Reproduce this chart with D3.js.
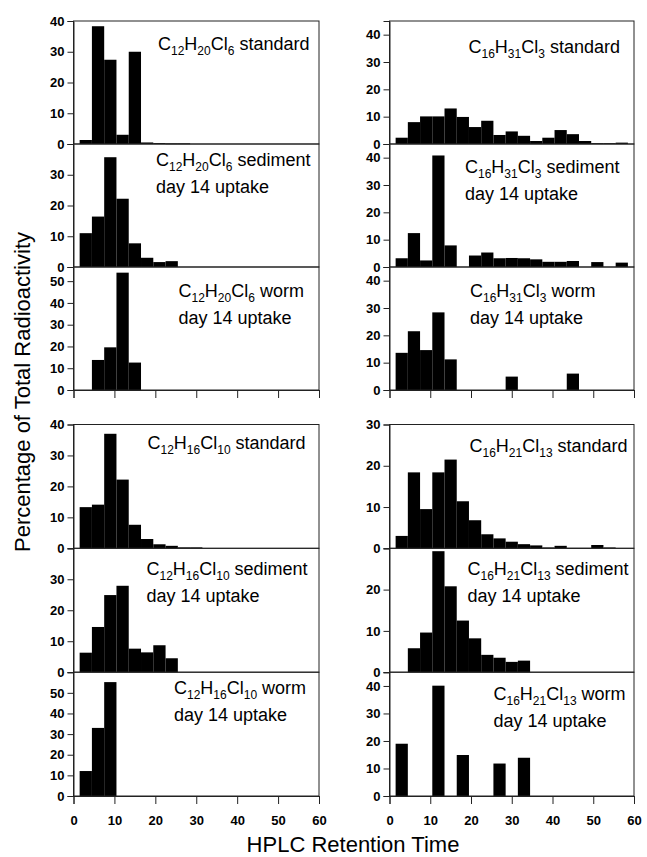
<!DOCTYPE html>
<html>
<head>
<meta charset="utf-8">
<script src="https://cdn.jsdelivr.net/npm/d3@7"></script>
<style>
  html, body { margin: 0; padding: 0; background: #fff; }
  svg { display: block; }
  text { font-family: Arial, "Liberation Sans", sans-serif; fill: #000; }
</style>
</head>
<body>
<svg id="chart" width="647" height="857"></svg>
<script>
// ---------- DATA ----------
// bin centres (HPLC retention time, bins 3 units wide)
const binCenters = [3, 6, 9, 12, 15, 18, 21, 24, 27, 30, 33, 36, 39, 42, 45, 48, 51, 54, 57];
const binWidth = 3;
const xTicks = [0, 10, 20, 30, 40, 50, 60];

// C12H20Cl6
const c12h20Standard = [1.3, 38.3, 27.4, 3.0, 30.0, 0.5, 0.3, 0.2, 0.2, 0, 0, 0, 0, 0, 0, 0, 0, 0, 0];
const c12h20Sediment = [11.0, 16.4, 35.7, 22.2, 7.7, 3.0, 1.6, 1.9, 0, 0, 0, 0, 0, 0, 0, 0, 0, 0, 0];
const c12h20Worm     = [0, 13.8, 19.6, 53.9, 12.6, 0, 0, 0, 0, 0, 0, 0, 0, 0, 0, 0, 0, 0, 0];
// C16H31Cl3
const c16h31Standard = [2.3, 8.0, 10.1, 10.1, 13.0, 9.9, 6.2, 8.5, 3.3, 4.6, 3.0, 1.1, 2.3, 5.1, 3.6, 1.1, 0.3, 0.3, 0.5];
const c16h31Sediment = [3.2, 12.4, 2.4, 40.8, 7.9, 0, 4.2, 5.3, 3.2, 3.3, 3.2, 2.8, 1.9, 1.9, 2.2, 0, 1.8, 0, 1.6];
const c16h31Worm     = [13.6, 21.5, 14.6, 28.4, 11.2, 0, 0, 0, 0, 4.9, 0, 0, 0, 0, 6.0, 0, 0, 0, 0];
// C12H16Cl10
const c12h16Standard = [13.3, 14.1, 37.0, 22.2, 7.6, 3.0, 1.3, 0.8, 0.3, 0.3, 0, 0, 0, 0, 0, 0, 0, 0, 0];
const c12h16Sediment = [6.3, 14.6, 24.9, 27.9, 7.6, 6.4, 8.7, 4.5, 0, 0, 0, 0, 0, 0, 0, 0, 0, 0, 0];
const c12h16Worm     = [12.1, 33.0, 55.2, 0, 0, 0, 0, 0, 0, 0, 0, 0, 0, 0, 0, 0, 0, 0, 0];
// C16H21Cl13
const c16h21Standard = [3.0, 18.4, 9.5, 18.4, 21.5, 11.4, 6.8, 3.4, 2.4, 1.6, 1.0, 0.7, 0.2, 0.6, 0.1, 0.1, 0.8, 0.2, 0];
const c16h21Sediment = [0, 5.8, 9.6, 29.3, 20.8, 12.5, 8.2, 4.2, 3.5, 2.5, 2.8, 0, 0, 0, 0, 0, 0, 0, 0];
const c16h21Worm     = [19.0, 0, 0, 40.1, 0, 14.9, 0, 0, 11.8, 0, 13.9, 0, 0, 0, 0, 0, 0, 0, 0];

// y-axis maxima for each panel
const yMaxes = [40, 40, 56.5, 45, 45, 45, 40, 40, 60, 30, 30, 45];

// panel labels: formula parts [text, isSubscript], then description lines
const labelFormulas = [
  [["C",0],["12",1],["H",0],["20",1],["Cl",0],["6",1]],
  [["C",0],["16",1],["H",0],["31",1],["Cl",0],["3",1]],
  [["C",0],["12",1],["H",0],["16",1],["Cl",0],["10",1]],
  [["C",0],["16",1],["H",0],["21",1],["Cl",0],["13",1]]
];
const labelKinds = [" standard", " sediment", " worm"];
const secondLine = "day 14 uptake";
const xTitle = "HPLC Retention Time";
const yTitle = "Percentage of Total Radioactivity";

// ---------- LAYOUT ----------
const colX = [[73.5, 319], [389.5, 634]];
const groupRows = [[21, 144, 267, 390], [424.5, 548.3, 672.2, 796]];
// label offsets relative to panel (x from axis left, y baseline from panel top)
const labelPos = [
  [84.5, 29], [82.5, 22], [105, 30],     // group 0 left
  [79, 32], [75.5, 29], [80.5, 30],      // group 0 right
  [74, 24], [73, 27], [100.5, 22],       // group 1 left
  [80, 27], [78, 27], [104, 28]          // group 1 right
];

const panelsData = [
  c12h20Standard, c12h20Sediment, c12h20Worm,
  c16h31Standard, c16h31Sediment, c16h31Worm,
  c12h16Standard, c12h16Sediment, c12h16Worm,
  c16h21Standard, c16h21Sediment, c16h21Worm
];

const svg = d3.select("#chart");
const axisColor = "#222";

panelsData.forEach((values, i) => {
  const group = Math.floor(i / 6);
  const col = Math.floor((i % 6) / 3);
  const row = i % 3;
  const [x0, x1] = colX[col];
  const rows = groupRows[group];
  const top = rows[row], bottom = rows[row + 1];
  const yMax = yMaxes[i];

  const x = d3.scaleLinear().domain([0, 60]).range([x0, x1]);
  const y = d3.scaleLinear().domain([0, yMax]).range([bottom, top]);

  const g = svg.append("g");

  // bars
  g.selectAll("rect.bar")
    .data(binCenters.map((c, k) => ({c, v: values[k]})).filter(d => d.v > 0))
    .enter().append("rect")
    .attr("class", "bar")
    .attr("x", d => x(d.c - binWidth / 2))
    .attr("width", d => x(d.c + binWidth / 2) - x(d.c - binWidth / 2))
    .attr("y", d => y(d.v))
    .attr("height", d => Math.max(0.8, y(0) - y(d.v)))
    .attr("fill", "#000");

  // frame
  g.append("rect")
    .attr("x", x0).attr("y", top)
    .attr("width", x1 - x0).attr("height", bottom - top)
    .attr("fill", "none").attr("stroke", axisColor).attr("stroke-width", 1);

  // y axis
  const isTop = row === 0;
  const yt = d3.range(0, yMax + 0.001, 10).filter(v => isTop || v < yMax - 0.5);
  const yAxis = d3.axisLeft(y).tickValues(yt).tickSize(6).tickPadding(3).tickFormat(d3.format("d"));
  const ya = g.append("g").attr("transform", `translate(${x0},0)`).call(yAxis);
  ya.select(".domain").attr("stroke", axisColor);
  ya.selectAll(".tick line").attr("stroke", axisColor);
  ya.selectAll("text").attr("font-size", 13).attr("font-weight", "bold")
    .attr("font-family", "Arial, 'Liberation Sans', sans-serif").attr("fill", "#000");

  // x axis ticks on bottom panel of each group
  if (row === 2) {
    const xAxis = d3.axisBottom(x).tickValues(xTicks).tickSize(8).tickPadding(12)
      .tickFormat(group === 1 ? d3.format("d") : () => "");
    const xa = g.append("g").attr("transform", `translate(0,${bottom})`).call(xAxis);
    xa.select(".domain").attr("stroke", axisColor);
    xa.selectAll(".tick line").attr("stroke", axisColor);
    xa.selectAll("text").attr("font-size", 13).attr("font-weight", "bold")
      .attr("font-family", "Arial, 'Liberation Sans', sans-serif").attr("fill", "#000");
  }

  // label
  const formula = labelFormulas[group * 2 + col];
  const [lx, ly] = labelPos[i];
  const t = g.append("text")
    .attr("x", x0 + lx).attr("y", top + ly)
    .attr("font-size", 18);
  let shifted = false;
  formula.forEach(([txt, sub]) => {
    const ts = t.append("tspan").text(txt);
    if (sub && !shifted) { ts.attr("dy", 5).attr("font-size", 12); shifted = true; }
    else if (sub) { ts.attr("font-size", 12); }
    else if (!sub && shifted) { ts.attr("dy", -5); shifted = false; }
  });
  const kind = t.append("tspan").text(labelKinds[row]);
  if (shifted) kind.attr("dy", -5);
  if (row > 0) {
    g.append("text").attr("x", x0 + lx).attr("y", top + ly + 27)
      .attr("font-size", 18).text(secondLine);
  }
});

// axis titles
svg.append("text")
  .attr("x", 353).attr("y", 852)
  .attr("text-anchor", "middle")
  .attr("font-size", 22)
  .text(xTitle);

svg.append("text")
  .attr("transform", "translate(30,392) rotate(-90)")
  .attr("text-anchor", "middle")
  .attr("font-size", 22)
  .text(yTitle);
</script>
</body>
</html>
